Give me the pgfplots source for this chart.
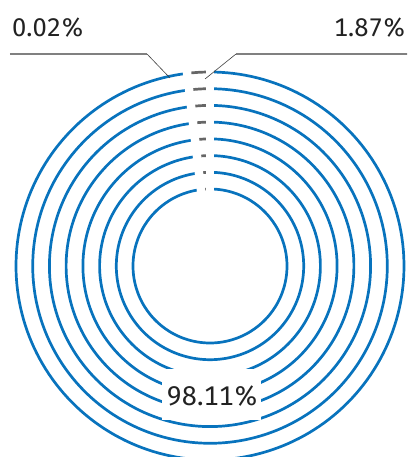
\documentclass[border=0pt]{standalone}
\usepackage{pgfplots}
\pgfplotsset{compat=1.18}
\usepackage{fontspec}
\setmainfont[Numbers=Monospaced]{Fira Sans}
\definecolor{ringblue}{HTML}{0873BD}
\definecolor{dashgray}{HTML}{666666}
\definecolor{leadgray}{HTML}{808080}
\definecolor{txt}{HTML}{222222}
% shares (percent): blue, small, gray
\def\pBlue{98.11}
\def\pSmall{0.02}
\def\pGray{1.87}
\begin{document}
\begin{tikzpicture}
\path[use as bounding box] (-210pt,-191pt) rectangle (197pt,266pt);
\begin{axis}[
  at={(0pt,0pt)}, anchor=origin,
  x=1pt, y=1pt,
  xmin=-210, xmax=197, ymin=-191, ymax=266,
  hide axis, clip=true,
]
% 98.11% from 12 o'clock clockwise: 90 -> 90-3.6*98.11 = -263.196
% 0.02%: -263.196 -> -263.268 ; 1.87%: -263.268 -> -270
\pgfplotsinvokeforeach{194,177.3,160.6,143.9,127.1,110.4,93.7,77}{
  \addplot[ringblue, line width=2.7pt, domain=-263.196:90, samples=200] ({#1*cos(x)},{#1*sin(x)});
  \addplot[dashgray, line width=2.7pt, domain=-270:-263.268, samples=10] ({#1*cos(x)},{#1*sin(x)});
}
% white separators between segments
\draw[white, line width=8.5pt] (axis cs:0,70) -- (axis cs:0,198);
\draw[white, line width=8.5pt] (axis cs:{-70*sin(6.77)},{70*cos(6.77)}) -- (axis cs:{-198*sin(6.77)},{198*cos(6.77)});
% label background
\fill[white] (axis cs:-48,-154) rectangle (axis cs:51,-103);
% leader lines
\draw[leadgray, line width=1.1pt] (axis cs:-200,212) -- (axis cs:-63,212);
\draw[black!75, line width=0.6pt] (axis cs:-63,212) -- (axis cs:-40,188);
\draw[leadgray, line width=1.1pt] (axis cs:200,212) -- (axis cs:26,212);
\draw[black!75, line width=0.6pt] (axis cs:26,212) -- (axis cs:-5,187);
\end{axis}
\node[anchor=base west, text=txt, font=\fontsize{25.5}{30}\selectfont, inner sep=0pt] at (-198pt,229pt) {0.02\%};
\node[anchor=base east, text=txt, font=\fontsize{25.5}{30}\selectfont, inner sep=0pt] at (196pt,229pt) {1.87\%};
\node[anchor=base, text=txt, font=\fontsize{27}{30}\selectfont, inner sep=0pt] at (2.5pt,-139pt) {98.11\%};
\end{tikzpicture}
\end{document}
